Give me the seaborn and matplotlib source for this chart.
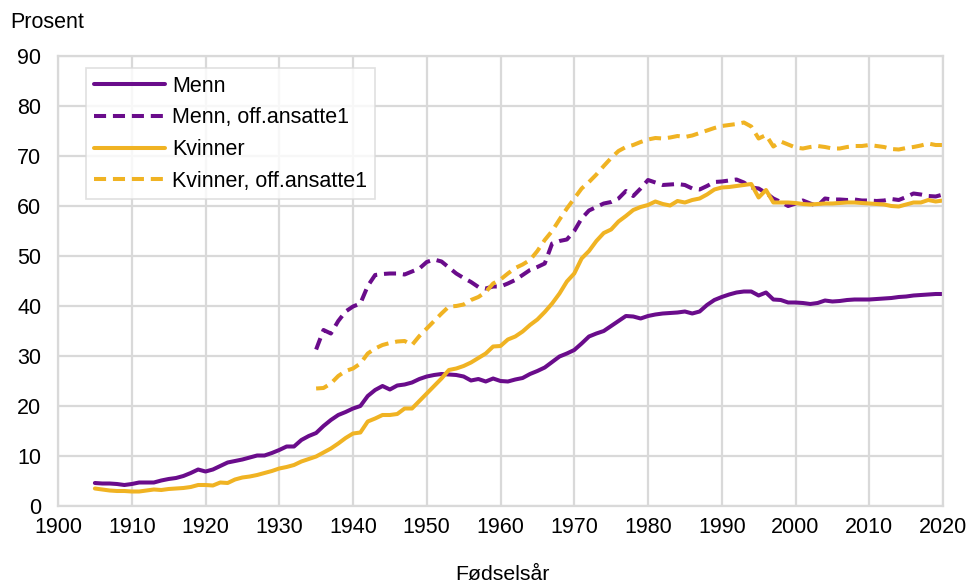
import numpy as np
import pandas as pd
import matplotlib
matplotlib.use('Agg')
import matplotlib.pyplot as plt
import seaborn as sns

# Data (percent by birth year)
years_all = np.arange(1905, 2021)
years_off = np.arange(1935, 2021)

menn = [
    4.6, 4.5, 4.5, 4.4, 4.2, 4.4, 4.7, 4.7, 4.7, 5.1,
    5.4, 5.6, 6.0, 6.6, 7.3, 6.9, 7.3, 8.0, 8.7, 9.0,
    9.3, 9.7, 10.1, 10.1, 10.6, 11.2, 11.9, 11.9, 13.2, 14.0,
    14.6, 16.0, 17.2, 18.2, 18.8, 19.5, 20.0, 22.0, 23.2, 24.0,
    23.3, 24.1, 24.3, 24.7, 25.4, 25.9, 26.2, 26.4, 26.3, 26.2,
    25.9, 25.1, 25.4, 24.9, 25.5, 25.0, 24.9, 25.3, 25.6, 26.4,
    27.0, 27.7, 28.8, 29.9, 30.5, 31.2, 32.5, 33.9, 34.5, 35.0,
    36.0, 37.0, 38.0, 37.9, 37.5, 38.0, 38.3, 38.5, 38.6, 38.7,
    38.9, 38.5, 38.9, 40.2, 41.2, 41.8, 42.3, 42.7, 42.9, 42.9,
    42.1, 42.7, 41.3, 41.2, 40.7, 40.7, 40.6, 40.4, 40.6, 41.1,
    40.9, 41.0, 41.2, 41.3, 41.3, 41.3, 41.4, 41.5, 41.6, 41.8,
    41.9, 42.1, 42.2, 42.3, 42.4, 42.4,
]

kvinner = [
    3.5, 3.3, 3.1, 3.0, 3.0, 2.9, 2.9, 3.1, 3.3, 3.2,
    3.4, 3.5, 3.6, 3.8, 4.2, 4.2, 4.1, 4.7, 4.6, 5.3,
    5.7, 5.9, 6.2, 6.6, 7.0, 7.5, 7.8, 8.2, 8.9, 9.4,
    9.9, 10.7, 11.5, 12.5, 13.6, 14.5, 14.7, 16.9, 17.5, 18.2,
    18.2, 18.4, 19.5, 19.5, 21.0, 22.5, 24.0, 25.5, 27.2, 27.5,
    28.0, 28.7, 29.6, 30.5, 31.9, 32.0, 33.3, 33.9, 34.9, 36.2,
    37.3, 38.8, 40.5, 42.5, 44.9, 46.5, 49.5, 51.0, 53.0, 54.6,
    55.3, 56.9, 58.0, 59.2, 59.8, 60.2, 60.9, 60.4, 60.1, 61.0,
    60.7, 61.2, 61.5, 62.3, 63.3, 63.7, 63.8, 64.0, 64.2, 64.4,
    61.7, 63.2, 60.7, 60.7, 60.7, 60.6, 60.4, 60.3, 60.4, 60.5,
    60.5, 60.6, 60.7, 60.7, 60.6, 60.5, 60.4, 60.3, 60.0, 59.9,
    60.3, 60.7, 60.7, 61.2, 60.9, 61.1,
]

menn_off = [
    31.3, 35.2, 34.5, 37.0, 38.9, 39.9, 40.5, 44.0, 46.2, 46.4,
    46.5, 46.5, 46.3, 46.9, 47.5, 48.8, 49.3, 48.9, 47.7, 46.5,
    45.6, 44.8, 43.8, 43.5, 43.9, 43.9, 44.5, 45.2, 46.2, 47.2,
    47.8, 48.5, 52.5, 53.0, 53.3, 55.0, 57.5, 59.1, 59.8, 60.5,
    60.8, 61.5, 63.0, 62.0, 63.5, 65.2, 64.7, 64.2, 64.3, 64.4,
    64.2, 63.5, 63.3, 64.0, 64.8, 64.9, 65.1, 65.3, 64.7, 63.7,
    63.5, 62.6, 61.5, 60.8, 60.0, 60.5, 61.1, 60.5, 60.0, 61.5,
    61.3, 61.3, 61.2, 61.3, 61.1, 61.1, 61.0, 61.1, 61.4, 61.2,
    61.8, 62.5, 62.3, 62.0, 61.9, 62.3,
]

kvinner_off = [
    23.5, 23.6, 24.5, 26.0, 27.0, 27.5, 28.5, 30.5, 31.5, 32.2,
    32.6, 32.9, 33.0, 32.2, 34.0, 35.5, 37.0, 38.5, 39.9, 40.0,
    40.3, 41.2, 41.8, 42.8, 44.5, 45.3, 46.5, 47.6, 48.3, 49.2,
    51.0, 53.2, 55.0, 57.3, 59.5, 61.5, 63.5, 64.8, 66.3, 68.0,
    69.6, 71.0, 71.8, 72.2, 72.8, 73.3, 73.6, 73.5, 73.7, 74.0,
    73.8, 74.1, 74.6, 75.1, 75.6, 76.0, 76.2, 76.4, 76.7, 75.9,
    73.5, 74.2, 71.9, 72.9, 72.3, 71.7, 71.5, 71.8, 72.0, 71.8,
    71.5, 71.5, 71.8, 72.0, 72.0, 72.2, 72.0, 71.8, 71.4, 71.3,
    71.6, 71.8, 72.1, 72.5, 72.2, 72.2,
]

labels = ['Menn', 'Menn, off.ansatte1', 'Kvinner', 'Kvinner, off.ansatte1']
x_ticks = list(range(1900, 2021, 10))
y_ticks = list(range(0, 91, 10))

purple = '#6a0c8b'
yellow = '#f0b323'

# long-form table for seaborn
df = pd.concat([
    pd.DataFrame({'aar': years_all, 'verdi': menn, 'serie': labels[0]}),
    pd.DataFrame({'aar': years_off, 'verdi': menn_off, 'serie': labels[1]}),
    pd.DataFrame({'aar': years_all, 'verdi': kvinner, 'serie': labels[2]}),
    pd.DataFrame({'aar': years_off, 'verdi': kvinner_off, 'serie': labels[3]}),
], ignore_index=True)

sns.set_style('white')
plt.rcParams['font.family'] = ['Liberation Sans', 'DejaVu Sans']
plt.rcParams['text.color'] = 'black'
plt.rcParams['xtick.color'] = 'black'
plt.rcParams['ytick.color'] = 'black'

fig = plt.figure(figsize=(9.7, 5.85), dpi=100)
ax = fig.add_axes([58 / 970, 1 - 506 / 585, (943 - 58) / 970, (506 - 56) / 585])

palette = {labels[0]: purple, labels[1]: purple, labels[2]: yellow, labels[3]: yellow}
dashes = {labels[0]: '', labels[1]: (3, 1.7), labels[2]: '', labels[3]: (3, 1.7)}

sns.lineplot(data=df, x='aar', y='verdi', hue='serie', style='serie',
             hue_order=labels, style_order=labels,
             palette=palette, dashes=dashes, linewidth=2.9, ax=ax)

ax.set_xlim(1900, 2020)
ax.set_ylim(0, 90)
ax.set_xticks(x_ticks)
ax.set_yticks(y_ticks)
ax.tick_params(axis='both', length=0, labelsize=15.5, labelcolor='black')
ax.tick_params(axis='y', pad=12)
ax.tick_params(axis='x', pad=8)
ax.set_xlabel('')
ax.set_ylabel('')
ax.grid(True, color='#d9d9d9', linewidth=1.6)
ax.set_axisbelow(True)
for s in ax.spines.values():
    s.set_color('#d9d9d9')
    s.set_linewidth(1.6)

handles, lbls = ax.get_legend_handles_labels()
leg = ax.legend(handles, lbls, loc='upper left',
                bbox_to_anchor=(86 / 970, 1 - 68 / 585), bbox_transform=fig.transFigure,
                borderaxespad=0, fontsize=15.5, frameon=True, fancybox=False,
                edgecolor='#d9d9d9', handlelength=3.3, handletextpad=0.35,
                labelspacing=0.5, borderpad=0.35)
leg.get_frame().set_linewidth(1.2)
for line in leg.get_lines():
    line.set_linewidth(2.9)

fig.text(10 / 970, 1 - 22 / 585, 'Prosent', fontsize=15.5, ha='left', va='center')
fig.text(502 / 970, 1 - 575 / 585, 'Fødselsår', fontsize=15.3, ha='center', va='center')

fig.savefig('out.png', dpi=100)
